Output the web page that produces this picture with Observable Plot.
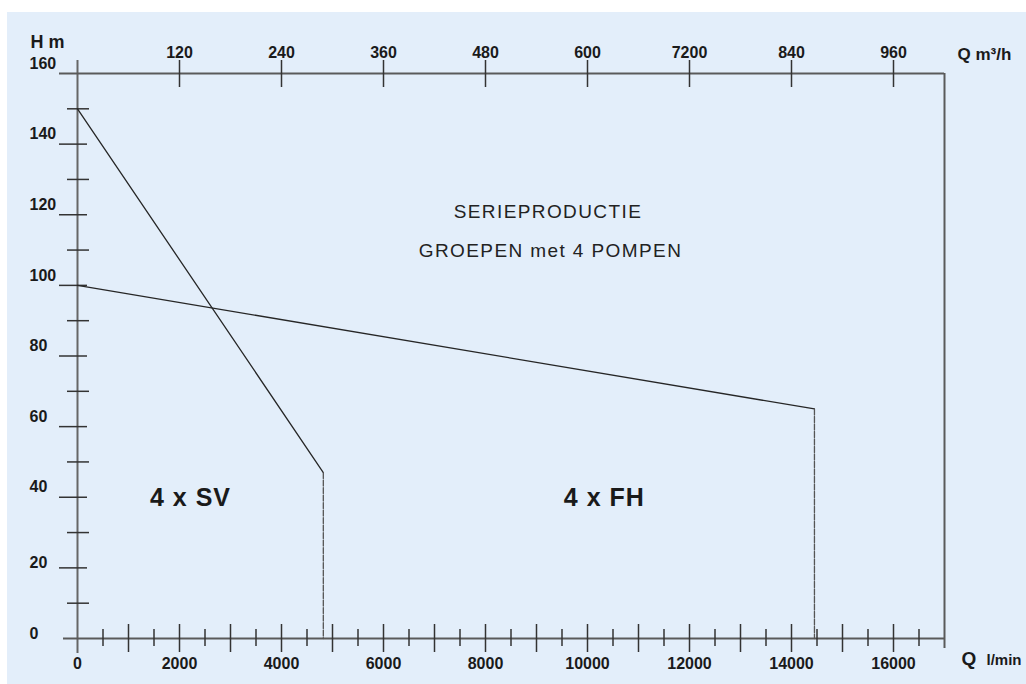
<!DOCTYPE html>
<html><head><meta charset="utf-8">
<script src="https://cdn.jsdelivr.net/npm/d3@7"></script>
<script src="https://cdn.jsdelivr.net/npm/@observablehq/plot@0.6"></script>
<style>
html,body{margin:0;padding:0;background:#fff;overflow:hidden;width:1026px;height:684px;}
#bg{position:absolute;left:7px;top:12px;right:0;bottom:0;background:#e3eefa;}
#chart{position:absolute;left:0;top:0;}
</style></head><body><div id="bg"></div><div id="chart"></div>
<script>
// ---- data ----
const svQ = [0, 4820, 4820];          // l/min
const svH = [150, 47, 0];             // m
const fhQ = [0, 14450, 14450];
const fhH = [100, 65, 0];

const yTickLabels = [0, 20, 40, 60, 80, 100, 120, 140, 160];
const yMajorTicks = [20, 40, 60, 80, 100, 120, 140];
const yMinorTicks = [10, 30, 50, 70, 90, 110, 130, 150];
const xTickLabels = [0, 2000, 4000, 6000, 8000, 10000, 12000, 14000, 16000];
const xMajorTicks = [1000, 2000, 3000, 4000, 5000, 6000, 7000, 8000, 9000, 10000, 11000, 12000, 13000, 14000, 15000, 16000];
const xMinorTicks = [500, 1500, 2500, 3500, 4500, 5500, 6500, 7500, 8500, 9500, 10500, 11500, 12500, 13500, 14500, 15500, 16500];
const topTicks = [2000, 4000, 6000, 8000, 10000, 12000, 14000, 16000];
const topTickLabels = ["120", "240", "360", "480", "600", "7200", "840", "960"];
const titleLines = ["SERIEPRODUCTIE", "GROEPEN met 4 POMPEN"];
const titleQ = [9225, 9275];
const titleH = [120.9, 109.8];
const groupLabels = ["4 x SV", "4 x FH"];
const groupQ = [2215, 10330];
const groupH = [39.7, 39.7];

// ---- layout ----
const W = 1026, H = 684, mL = 77, mR = 82, mT = 73, mB = 46;
const xMax = 17000, yMax = 160;
const pxX = (W - mL - mR) / xMax, pxY = (H - mT - mB) / yMax;
const ux = p => p / pxX, uy = p => p / pxY;

const sv = svQ.map((q, i) => ({q, h: svH[i]}));
const fh = fhQ.map((q, i) => ({q, h: fhH[i]}));
const titles = titleLines.map((t, i) => ({t, q: titleQ[i], h: titleH[i]}));
const groups = groupLabels.map((t, i) => ({t, q: groupQ[i], h: groupH[i]}));

const axisC = "#5a5a5a", tickC = "#333", curveC = "#262626";
const FONT = "'Liberation Sans', Arial, Helvetica, sans-serif";
const TF = 16;

const svg = Plot.plot({
  width: W, height: H,
  marginLeft: mL, marginRight: mR, marginTop: mT, marginBottom: mB,
  x: {domain: [0, xMax], axis: null},
  y: {domain: [0, yMax], axis: null},
  style: {fontFamily: FONT, background: "transparent", color: "#1a1a1a", overflow: "visible"},
  marks: [
    // frame lines
    Plot.ruleX([0], {y1: yMax + uy(13), y2: -uy(15), stroke: "#666", strokeWidth: 2}),
    Plot.ruleY([yMax], {x1: -ux(18), x2: xMax, stroke: axisC, strokeWidth: 2}),
    Plot.ruleY([0], {x1: -ux(14), x2: xMax, stroke: axisC, strokeWidth: 2}),
    Plot.ruleX([xMax], {y1: yMax, y2: -uy(10), stroke: axisC, strokeWidth: 2}),
    // ticks
    Plot.ruleY(yMajorTicks, {x1: -ux(18), x2: ux(10), stroke: tickC, strokeWidth: 1.5}),
    Plot.ruleY(yMinorTicks, {x1: -ux(10), x2: ux(12), stroke: tickC, strokeWidth: 1.5}),
    Plot.ruleX(xMajorTicks, {y1: uy(14), y2: -uy(14), stroke: tickC, strokeWidth: 1.5}),
    Plot.ruleX(xMinorTicks, {y1: uy(9), y2: -uy(8), stroke: tickC, strokeWidth: 1.5}),
    Plot.ruleX(topTicks, {y1: yMax + uy(13), y2: yMax - uy(14), stroke: tickC, strokeWidth: 1.5}),
    // curves
    Plot.line(sv.slice(0, 2), {x: "q", y: "h", stroke: curveC, strokeWidth: 1.3}),
    Plot.line(sv.slice(1), {x: "q", y: "h", stroke: "#555", strokeWidth: 1.3, strokeDasharray: "6,1.5"}),
    Plot.line(fh.slice(0, 2), {x: "q", y: "h", stroke: curveC, strokeWidth: 1.3}),
    Plot.line(fh.slice(1), {x: "q", y: "h", stroke: "#555", strokeWidth: 1.3, strokeDasharray: "6,1.5"}),
    // tick labels
    Plot.text(yTickLabels.filter(d => d < 40), {y: d => d, text: d => String(d), frameAnchor: "left", dx: -48, dy: -5, textAnchor: "start", fontSize: TF, fontWeight: "bold"}),
    Plot.text(yTickLabels.filter(d => d >= 40), {y: d => d, text: d => String(d), frameAnchor: "left", dx: -48, dy: -10, textAnchor: "start", fontSize: TF, fontWeight: "bold"}),
    Plot.text(xTickLabels, {x: d => d, text: d => String(d), frameAnchor: "bottom", dy: 30, fontSize: TF, fontWeight: "bold"}),
    Plot.text(topTicks, {x: d => d, text: (d, i) => topTickLabels[i], frameAnchor: "top", dy: -27, fontSize: TF, fontWeight: "bold"}),
    // axis titles
    Plot.text(["H m"], {frameAnchor: "top-left", dx: -47, dy: -38, textAnchor: "start", fontSize: 18, fontWeight: "bold"}),
    Plot.text(["Q m³/h"], {frameAnchor: "top-right", dx: 13, dy: -26, textAnchor: "start", fontSize: 17, fontWeight: "bold"}),
    Plot.text(["Q"], {frameAnchor: "bottom-right", dx: 17, dy: 26, textAnchor: "start", fontSize: 19, fontWeight: "bold"}),
    Plot.text(["l/min"], {frameAnchor: "bottom-right", dx: 42, dy: 26, textAnchor: "start", fontSize: 15, fontWeight: "bold"}),
    // annotations
    Plot.text(titles, {x: "q", y: "h", text: "t", fontSize: 19, fill: "#222"}),
    Plot.text(groups, {x: "q", y: "h", text: "t", fontSize: 25, fontWeight: "bold", fill: "#1a1a1a"})
  ]
});
d3.select(svg).selectAll("text")
  .filter(function () { return titleLines.includes(this.textContent); })
  .style("letter-spacing", "1.4px");
d3.select(svg).selectAll("text")
  .filter(function () { return groupLabels.includes(this.textContent); })
  .style("letter-spacing", "1px");
document.getElementById("chart").appendChild(svg);
</script></body></html>
